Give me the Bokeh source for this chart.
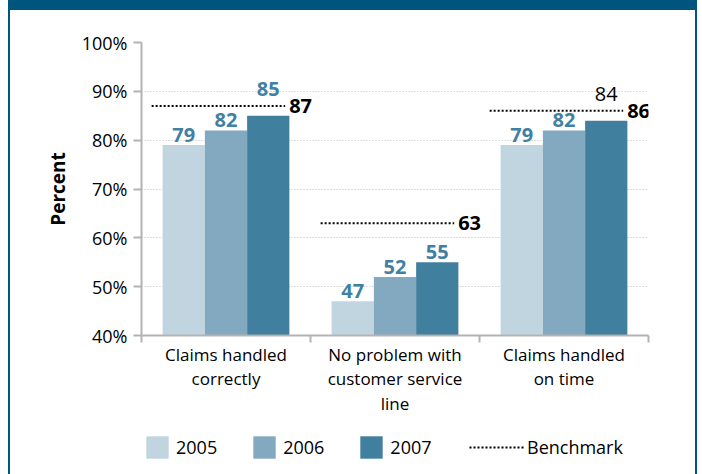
from bokeh.plotting import figure
from bokeh.layouts import column
from bokeh.models import ColumnDataSource, FixedTicker, Legend, LegendItem, Range1d
from bokeh.core.properties import value
from bokeh.embed import file_html
from bokeh.resources import INLINE

# ---- data ----
categories = ["Claims handled\ncorrectly",
              "No problem with\ncustomer service\nline",
              "Claims handled\non time"]
years = ["2005", "2006", "2007"]
v2005 = [79, 47, 79]
v2006 = [82, 52, 82]
v2007 = [85, 55, 84]
benchmark = [87, 63, 86]
y_ticks = [40, 50, 60, 70, 80, 90, 100]
y_tick_labels = ["40%", "50%", "60%", "70%", "80%", "90%", "100%"]

FONT = "Open Sans"
colors = ["#c1d5e0", "#82a9bf", "#417f9f"]
label_blue = "#3f80a3"
frame_blue = "#00557f"

p = figure(width=685, height=415, output_backend="svg", toolbar_location=None,
           x_range=Range1d(0, 3), y_range=Range1d(40, 100),
           min_border_left=131, min_border_right=47, min_border_top=32,
           min_border_bottom=90)
p.outline_line_color = None
p.background_fill_color = "white"
p.border_fill_color = "white"

# grid
p.xgrid.grid_line_color = None
p.ygrid.ticker = FixedTicker(ticks=y_ticks)
p.ygrid.grid_line_color = "#bdbdbd"
p.ygrid.grid_line_dash = "1 2"
p.ygrid.grid_line_width = 1

# bars
series = [v2005, v2006, v2007]
offsets = [-0.25, 0.0, 0.25]
for j, vals in enumerate(series):
    src = ColumnDataSource(dict(x=[i + 0.5 + offsets[j] for i in range(len(categories))],
                                top=vals))
    p.vbar(x="x", top="top", bottom=40, width=0.25, source=src,
           fill_color=colors[j], line_color=None)

# benchmark lines
bsrc = ColumnDataSource(dict(x0=[i + 0.06 for i in range(len(categories))],
                             x1=[i + 0.85 for i in range(len(categories))],
                             y=benchmark, t=[str(b) for b in benchmark]))
p.segment(x0="x0", x1="x1", y0="y", y1="y", source=bsrc,
          line_color="black", line_width=2, line_dash="2 2")
p.text(x="x1", y="y", text="t", source=bsrc, x_offset=4, text_baseline="middle",
       text_align="left", text_font=value(FONT), text_font_style="bold",
       text_font_size="20px", text_color="black")

# value labels
px_per_unit = 293 / 60.0
for j, vals in enumerate(series):
    for i, v in enumerate(vals):
        x = i + 0.5 + offsets[j]
        collide = v + 19 / px_per_unit > benchmark[i]
        if collide:
            y, yoff = benchmark[i], -10
        else:
            y, yoff = v, -3
        plain = (i == 2 and j == 2)
        p.text(x=[x], y=[y], text=[str(v)], y_offset=yoff, text_align="center",
               text_baseline="bottom", text_font=value(FONT),
               text_font_style="normal" if plain else "bold",
               text_font_size="20px",
               text_color="black" if plain else label_blue)

# y axis
ya = p.yaxis[0]
ya.ticker = FixedTicker(ticks=y_ticks)
ya.major_label_overrides = {t: l for t, l in zip(y_ticks, y_tick_labels)}
ya.minor_tick_line_color = None
ya.major_tick_out = 8
ya.major_tick_in = 0
ya.major_tick_line_color = "#b3b3b3"
ya.major_tick_line_width = 2
ya.axis_line_color = "#b3b3b3"
ya.axis_line_width = 2
ya.major_label_standoff = 6
ya.major_label_text_font = FONT
ya.major_label_text_font_size = "18px"
ya.major_label_text_color = "black"
ya.axis_label = "Percent"
ya.axis_label_text_font = FONT
ya.axis_label_text_font_style = "bold"
ya.axis_label_text_font_size = "19px"
ya.axis_label_text_color = "black"
ya.axis_label_standoff = 8

# x axis
xa = p.xaxis[0]
xa.ticker = FixedTicker(ticks=[i + 0.5 for i in range(len(categories))],
                        minor_ticks=list(range(len(categories) + 1)))
xa.major_label_overrides = {i + 0.5: c for i, c in enumerate(categories)}
xa.major_tick_out = 0
xa.major_tick_in = 0
xa.minor_tick_out = 7
xa.minor_tick_in = 0
xa.minor_tick_line_color = "#b3b3b3"
xa.minor_tick_line_width = 2
xa.axis_line_color = "#b3b3b3"
xa.axis_line_width = 2
xa.major_label_standoff = 0
xa.major_label_text_font = FONT
xa.major_label_text_font_size = "17px"
xa.major_label_text_color = "black"
xa.major_label_text_line_height = 1.08

# legend strip (separate figure under the chart; its glyphs sit outside its ranges)
lg = figure(width=685, height=49, output_backend="svg", toolbar_location=None,
            x_range=Range1d(0, 1), y_range=Range1d(0, 1),
            x_axis_location=None, y_axis_location=None,
            min_border=0, min_border_left=0, min_border_right=0,
            min_border_top=0, min_border_bottom=0)
lg.outline_line_color = None
lg.grid.visible = False
lg.border_fill_color = "white"
legend_bars = []
for j in range(len(years)):
    legend_bars.append(lg.vbar(x=[-5], top=[-5], bottom=-6, width=0.1,
                               fill_color=colors[j], line_color=None))
legend_line = lg.segment(x0=[-6], x1=[-5], y0=[-5], y1=[-5], line_color="black",
                         line_width=2, line_dash="2 2")

common = dict(orientation="horizontal", padding=0, margin=0, border_line_color=None,
              background_fill_alpha=0, label_text_font=FONT,
              label_text_font_size="18px", label_text_color="black")
leg1 = Legend(items=[LegendItem(label=yr, renderers=[r]) for yr, r in zip(years, legend_bars)],
              location=(2, 13), glyph_width=28, glyph_height=28, label_standoff=5,
              spacing=33, **common)
leg2 = Legend(items=[LegendItem(label="Benchmark", renderers=[legend_line])],
              location=(328, 13), glyph_width=55, glyph_height=28, label_standoff=3,
              spacing=0, **common)
lg.add_layout(leg1)
lg.add_layout(leg2)

layout = column(p, lg, spacing=0)
layout.styles = {"position": "relative", "left": "10px", "top": "10px",
                 "box-shadow": f"-2px 0 0 0 {frame_blue}, 2px 0 0 0 {frame_blue}, "
                               f"0 -10px 0 0 {frame_blue}, -2px -10px 0 0 {frame_blue}, "
                               f"2px -10px 0 0 {frame_blue}"}

open("out.html", "w").write(file_html(layout, INLINE))
